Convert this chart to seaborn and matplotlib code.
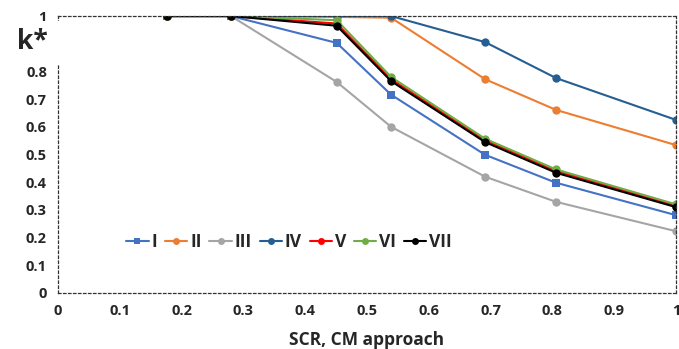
import matplotlib
matplotlib.use("Agg")
import matplotlib.pyplot as plt
from matplotlib.patches import Rectangle
import numpy as np
import pandas as pd
import seaborn as sns

# SCR values (x) and k* per configuration
scr = [0.177, 0.28, 0.451, 0.539, 0.691, 0.806, 1.0]
series_names = ["I", "II", "III", "IV", "V", "VI", "VII"]
k_I = [1.0, 1.0, 0.903, 0.716, 0.499, 0.398, 0.281]
k_II = [1.0, 1.0, 0.997, 0.994, 0.772, 0.661, 0.534]
k_III = [1.0, 1.0, 0.762, 0.600, 0.420, 0.329, 0.223]
k_IV = [1.0, 1.0, 1.0, 1.0, 0.906, 0.776, 0.625]
k_V = [1.0, 1.0, 0.973, 0.772, 0.552, 0.441, 0.315]
k_VI = [1.0, 1.0, 0.985, 0.780, 0.557, 0.446, 0.320]
k_VII = [1.0, 1.0, 0.965, 0.765, 0.545, 0.434, 0.310]

colors = ["#4472C4", "#ED7D31", "#A5A5A5", "#255E91", "#FF0000", "#70AD47", "#000000"]
markers = ["s", "o", "o", "o", "o", "o", "o"]

all_k = [k_I, k_II, k_III, k_IV, k_V, k_VI, k_VII]
df = pd.DataFrame({
    "scr": np.tile(scr, len(series_names)),
    "k": np.concatenate(all_k),
    "series": np.repeat(series_names, len(scr)),
})

sns.set_theme(style="white")
plt.rcParams["font.family"] = ["Open Sans", "DejaVu Sans"]

fig = plt.figure(figsize=(6.79, 3.49), dpi=100)
ax = fig.add_axes([0.0854, 0.1605, 0.9102, 0.7935])

sns.lineplot(
    data=df, x="scr", y="k", hue="series", style="series",
    palette=dict(zip(series_names, colors)),
    markers=dict(zip(series_names, markers)),
    dashes=False, markersize=6, linewidth=1.5, markeredgewidth=0,
    ax=ax, legend=True,
)

ax.set_xlim(0, 1)
ax.set_ylim(0, 1)
ax.set_xticks(np.arange(0, 1.01, 0.1))
ax.set_xticklabels(["0", "0.1", "0.2", "0.3", "0.4", "0.5", "0.6", "0.7", "0.8", "0.9", "1"],
                   fontweight="bold", fontsize=10.5)
ax.set_yticks(np.arange(0, 1.01, 0.1))
ax.set_yticklabels(["0", "0.1", "0.2", "0.3", "0.4", "0.5", "0.6", "0.7", "0.8", "", "1"],
                   fontweight="bold", fontsize=10.5)
ax.tick_params(axis="both", length=0, pad=8)

for sp in ax.spines.values():
    sp.set_linestyle((0, (2, 2)))
    sp.set_color("#333333")
    sp.set_linewidth(0.9)

ax.set_xlabel("SCR, CM approach", fontweight="bold", fontsize=12.5, labelpad=9)
ax.set_ylabel("")

# white block hiding the left border behind the k* label
fig.patches.append(Rectangle((0.03, 0.814), 0.058, 0.126, transform=fig.transFigure,
                             facecolor="white", edgecolor="none", zorder=5))
fig.text(0.048, 0.882, "k*", fontsize=19, fontweight="bold", ha="center", va="center",
         zorder=6)

leg = ax.legend(loc="center left", bbox_to_anchor=(0.085, 0.185), ncol=7, frameon=False,
                handlelength=1.3, handletextpad=0.15, columnspacing=0.45,
                prop={"weight": "bold", "size": 12.5})
for h in leg.legend_handles:
    h.set_markersize(5)

fig.savefig("out.png", dpi=100)
